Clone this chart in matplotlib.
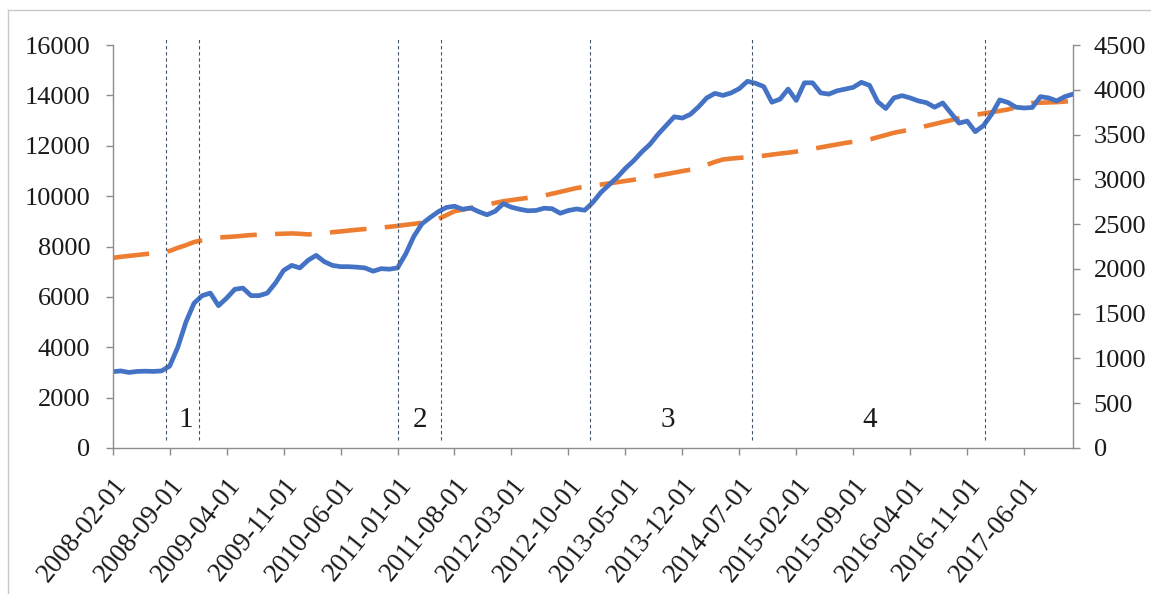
import matplotlib
matplotlib.use("Agg")
import matplotlib.pyplot as plt
import matplotlib.transforms as mtransforms
from matplotlib.lines import Line2D
import numpy as np

plt.rcParams['font.family'] = ['Liberation Serif', 'DejaVu Serif']

# monthly series, 2008-02 .. 2017-12 (119 months)
blue_vals = [
    3030, 3060, 3000, 3040, 3050, 3040, 3060, 3250, 4000, 5000,
    5750, 6050, 6150, 5650, 5950, 6300, 6350, 6050, 6050, 6150,
    6550, 7050, 7250, 7150, 7450, 7650, 7400, 7250, 7200, 7200,
    7180, 7150, 7020, 7120, 7100, 7150, 7700, 8400, 8900, 9150,
    9380, 9550, 9600, 9480, 9530, 9380, 9260, 9400, 9700, 9560,
    9480, 9420, 9430, 9520, 9500, 9320, 9430, 9490, 9440, 9750,
    10150, 10450, 10750, 11100, 11400, 11750, 12050, 12450, 12800, 13150,
    13100, 13250, 13550, 13900, 14080, 14000, 14100, 14270, 14560, 14480,
    14350, 13730, 13850, 14250, 13800, 14500, 14500, 14100, 14050, 14180,
    14250, 14320, 14520, 14400, 13750, 13480, 13900, 13990, 13900, 13780,
    13710, 13530, 13700, 13300, 12900, 12980, 12560, 12800, 13250, 13820,
    13720, 13530, 13500, 13520, 13950, 13900, 13780, 13950, 14050,
]
orange_vals = [
    2123, 2135, 2145, 2155, 2165, 2175, 2185, 2200, 2235, 2265,
    2300, 2320, 2338, 2350, 2356, 2362, 2370, 2378, 2382, 2386,
    2390, 2393, 2396, 2392, 2385, 2392, 2402, 2410, 2418, 2428,
    2437, 2445, 2452, 2462, 2470, 2480, 2492, 2503, 2515, 2535,
    2557, 2600, 2644, 2662, 2680, 2700, 2718, 2737, 2756, 2768,
    2781, 2793, 2805, 2818, 2840, 2860, 2882, 2903, 2916, 2930,
    2942, 2955, 2968, 2982, 2995, 3010, 3026, 3042, 3058, 3075,
    3092, 3108, 3135, 3162, 3195, 3222, 3232, 3240, 3246, 3252,
    3264, 3276, 3288, 3298, 3310, 3328, 3341, 3357, 3374, 3390,
    3406, 3420, 3434, 3445, 3470, 3495, 3520, 3538, 3556, 3575,
    3597, 3618, 3640, 3661, 3683, 3704, 3720, 3735, 3750, 3765,
    3780, 3804, 3828, 3853, 3856, 3859, 3862, 3869, 3876,
]
tick_labels = [
    '2008-02-01', '2008-09-01', '2009-04-01', '2009-11-01', '2010-06-01',
    '2011-01-01', '2011-08-01', '2012-03-01', '2012-10-01', '2013-05-01',
    '2013-12-01', '2014-07-01', '2015-02-01', '2015-09-01', '2016-04-01',
    '2016-11-01', '2017-06-01',
]
break_pos = [6.5, 10.6, 35.0, 40.3, 58.7, 78.5, 107.2]
phase_names = ['1', '2', '3', '4']
phase_pos = [9.0, 37.8, 68.2, 93.0]

BLUE = '#4472C4'
ORANGE = '#ED7D31'
GREY = '#8c8c8c'
TXT = '#1a1a1a'

x = np.arange(len(blue_vals))

fig = plt.figure(figsize=(11.51, 5.94), dpi=100)
ax = fig.add_axes([0.0979, 0.2458, 0.8343, 0.6784])
ax2 = ax.twinx()
ax.set_zorder(ax2.get_zorder() + 1)
ax.patch.set_visible(False)

ax2.plot(x, orange_vals, color=ORANGE, lw=3.3, dashes=(8, 4), dash_capstyle='butt')
ax.plot(x, blue_vals, color=BLUE, lw=3.4, solid_joinstyle='round')

for p in break_pos:
    ax.plot([p, p], [320, 16320], color='#44546A', lw=0.8, ls=(0, (3, 2.5)), clip_on=False)
for name, p in zip(phase_names, phase_pos):
    ax.text(p, 1130, name, fontsize=21, color=TXT, ha='center', va='center')

ax.set_xlim(0, len(blue_vals) - 1)
ax.set_ylim(0, 16000)
ax2.set_ylim(0, 4500)
ax.set_yticks(np.arange(0, 16001, 2000))
ax2.set_yticks(np.arange(0, 4501, 500))
ax.set_xticks(np.arange(0, len(blue_vals), 7))
ax.set_xticklabels(tick_labels, rotation=51, ha='right', va='top', rotation_mode='anchor')

offset = mtransforms.ScaledTranslation(0.10, 0, fig.dpi_scale_trans)
for lab in ax.get_xticklabels():
    lab.set_transform(lab.get_transform() + offset)

for a in (ax, ax2):
    a.spines['top'].set_visible(False)
    for s in ('left', 'right', 'bottom'):
        a.spines[s].set_color(GREY)
        a.spines[s].set_linewidth(1.0)
ax.spines['right'].set_visible(False)
ax2.spines['left'].set_visible(False)
ax2.spines['bottom'].set_visible(False)

ax.tick_params(axis='y', direction='out', length=5, width=1, color=GREY, pad=11,
               labelsize=19, labelcolor=TXT)
ax.tick_params(axis='x', direction='out', length=5, width=1, color=GREY, pad=13,
               labelsize=19.5, labelcolor=TXT)
ax2.tick_params(axis='y', direction='out', length=5, width=1, color=GREY, pad=10,
                labelsize=19, labelcolor=TXT)

# outer chart frame
fig.add_artist(Line2D([8 / 1151, 8 / 1151], [0, 1 - 10 / 594], transform=fig.transFigure,
                      color='#c8c8c8', lw=1))
fig.add_artist(Line2D([8 / 1151, 1], [1 - 10 / 594, 1 - 10 / 594], transform=fig.transFigure,
                      color='#c8c8c8', lw=1))

fig.savefig('out.png', dpi=100)
